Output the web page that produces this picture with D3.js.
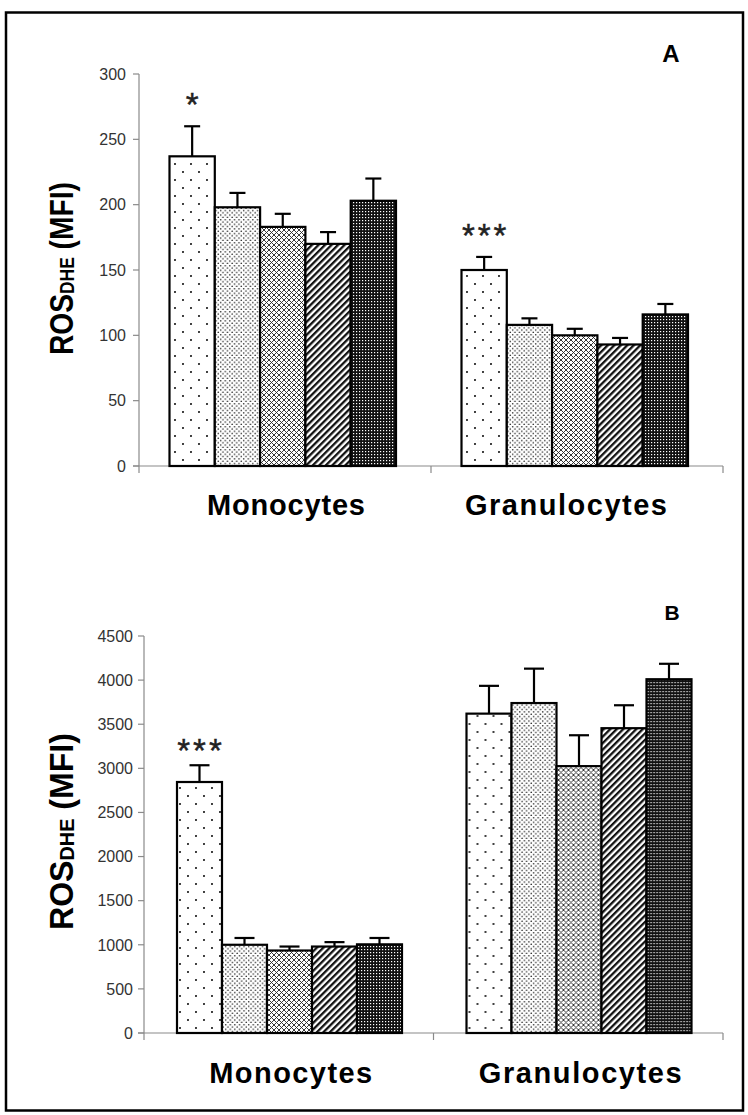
<!DOCTYPE html>
<html><head><meta charset="utf-8">
<script src="https://cdn.jsdelivr.net/npm/d3@7"></script>
<style>body{margin:0;background:#fff}svg{display:block}</style>
</head><body><svg id="c" width="748" height="1115"></svg>
<script>
// ---- data ----
const categories = ["Monocytes", "Granulocytes"];
const series = ["Group 1", "Group 2", "Group 3", "Group 4", "Group 5"];

const panelA_Monocytes = [237, 198, 183, 170, 203];
const panelA_MonocytesErr = [23, 11, 10, 9, 17];
const panelA_Granulocytes = [150, 108, 100, 93, 116];
const panelA_GranulocytesErr = [10, 5, 5, 5, 8];
const panelA_Ticks = [0, 50, 100, 150, 200, 250, 300];
const panelA_Sig = [["*", "", "", "", ""], ["***", "", "", "", ""]];

const panelB_Monocytes = [2845, 1000, 935, 980, 1005];
const panelB_MonocytesErr = [190, 77, 45, 50, 72];
const panelB_Granulocytes = [3620, 3740, 3025, 3455, 4010];
const panelB_GranulocytesErr = [315, 390, 350, 260, 175];
const panelB_Ticks = [0, 500, 1000, 1500, 2000, 2500, 3000, 3500, 4000, 4500];
const panelB_Sig = [["***", "", "", "", ""], ["", "", "", "", ""]];

const F = "'Liberation Sans', Arial, Helvetica, sans-serif";
const svg = d3.select("#c");

// ---- patterns ----
const defs = svg.append("defs");
function pat(id, w, h, build, tf) {
  const p = defs.append("pattern").attr("id", id).attr("patternUnits", "userSpaceOnUse")
    .attr("width", w).attr("height", h);
  if (tf) p.attr("patternTransform", tf);
  build(p);
}
pat("p0", 16, 16, p => {
  p.append("rect").attr("width", 16).attr("height", 16).attr("fill", "#fff");
  p.append("circle").attr("cx", 4).attr("cy", 4).attr("r", 1.05).attr("fill", "#111");
  p.append("circle").attr("cx", 12).attr("cy", 12).attr("r", 1.05).attr("fill", "#111");
});
pat("p1", 4.6, 4.6, p => {
  p.append("rect").attr("width", 4.6).attr("height", 4.6).attr("fill", "#fff");
  p.append("circle").attr("cx", 1.15).attr("cy", 1.15).attr("r", 0.8).attr("fill", "#222");
  p.append("circle").attr("cx", 3.45).attr("cy", 3.45).attr("r", 0.8).attr("fill", "#222");
});
pat("p2", 5, 5, p => {
  p.append("rect").attr("width", 5).attr("height", 5).attr("fill", "#fff");
  p.append("path").attr("d", "M0,0L5,5M0,5L5,0M-1,1L1,-1M4,6L6,4M-1,4L1,6M4,-1L6,1")
    .attr("stroke", "#222").attr("stroke-width", 0.9);
});
pat("p3", 4.6, 4.6, p => {
  p.append("rect").attr("width", 4.6).attr("height", 4.6).attr("fill", "#fff");
  p.append("rect").attr("width", 2.3).attr("height", 4.6).attr("fill", "#111");
}, "rotate(45)");
pat("p4", 3, 3, p => {
  p.append("rect").attr("width", 3).attr("height", 3).attr("fill", "#111");
  p.append("rect").attr("x", 1).attr("y", 1).attr("width", 1.2).attr("height", 1.2).attr("fill", "#fff");
});
const fills = ["url(#p0)", "url(#p1)", "url(#p2)", "url(#p3)", "url(#p4)"];

// ---- frame ----
svg.append("rect").attr("x", 6).attr("y", 12.5).attr("width", 737).attr("height", 1098)
  .attr("fill", "none").attr("stroke", "#000").attr("stroke-width", 2.5);

function drawPanel(cfg) {
  const y = d3.scaleLinear().domain([0, cfg.ticks[cfg.ticks.length - 1]]).range([cfg.y0, cfg.y1]);
  const x0 = d3.scaleBand().domain(categories).range([cfg.xLeft, cfg.xRight]).padding(0);
  const x1 = d3.scaleBand().domain(series).range(cfg.inner).padding(0);
  const g = svg.append("g");
  const axisColor = "#8a8a8a";

  // y axis
  g.append("line").attr("x1", cfg.xLeft).attr("x2", cfg.xLeft).attr("y1", y(cfg.ticks[cfg.ticks.length - 1]))
    .attr("y2", cfg.y0 + 7).attr("stroke", axisColor).attr("stroke-width", 1.2);
  cfg.ticks.forEach(t => {
    g.append("line").attr("x1", cfg.xLeft - 6).attr("x2", cfg.xLeft).attr("y1", y(t)).attr("y2", y(t))
      .attr("stroke", axisColor).attr("stroke-width", 1.2);
    g.append("text").attr("x", cfg.xLeft - cfg.labelGap).attr("y", y(t)).attr("dy", "0.36em")
      .attr("text-anchor", "end").attr("font-family", F).attr("font-size", 16).attr("fill", "#333").text(t);
  });
  // x axis
  g.append("line").attr("x1", cfg.xLeft - 6).attr("x2", cfg.xRight).attr("y1", cfg.y0).attr("y2", cfg.y0)
    .attr("stroke", axisColor).attr("stroke-width", 1.2);
  categories.forEach((c, i) => {
    const xx = x0(c) + x0.bandwidth();
    g.append("line").attr("x1", xx).attr("x2", xx).attr("y1", cfg.y0).attr("y2", cfg.y0 + 7)
      .attr("stroke", axisColor).attr("stroke-width", 1.2);
  });

  // bars
  categories.forEach((c, ci) => {
    const vals = cfg.values[ci], errs = cfg.errs[ci];
    const gg = g.append("g").attr("transform", `translate(${x0(c)},0)`);
    gg.selectAll("rect.bar").data(series).join("rect").attr("class", "bar")
      .attr("x", s => x1(s)).attr("width", x1.bandwidth())
      .attr("y", (s, i) => y(vals[i])).attr("height", (s, i) => cfg.y0 - y(vals[i]))
      .attr("fill", (s, i) => fills[i]).attr("stroke", "#000").attr("stroke-width", 2.2);
    series.forEach((s, i) => {
      const cx = x1(s) + x1.bandwidth() / 2;
      const top = y(vals[i] + errs[i]);
      gg.append("line").attr("x1", cx).attr("x2", cx).attr("y1", y(vals[i])).attr("y2", top)
        .attr("stroke", "#000").attr("stroke-width", 2.2);
      gg.append("line").attr("x1", cx - cfg.cap / 2).attr("x2", cx + cfg.cap / 2).attr("y1", top).attr("y2", top)
        .attr("stroke", "#000").attr("stroke-width", 2.2);
      const sig = cfg.sig[ci][i];
      if (sig) {
        gg.append("text").attr("x", cx + 1.5).attr("y", top - cfg.sigGap + 18)
          .attr("text-anchor", "middle").attr("font-family", F).attr("font-size", 33)
          .attr("letter-spacing", 3).attr("fill", "#222").attr("stroke", "#222").attr("stroke-width", 0.4).text(sig);
      }
    });
  });

  // category labels
  categories.forEach((c, ci) => {
    g.append("text").attr("x", x0(c) + x0.bandwidth() / 2 + cfg.catDx[ci]).attr("y", cfg.catY)
      .attr("text-anchor", "middle").attr("font-family", F).attr("font-weight", "bold")
      .attr("font-size", 29).attr("textLength", cfg.catLen[ci]).attr("lengthAdjust", "spacing")
      .attr("fill", "#000").text(c);
  });

  // panel letter
  g.append("text").attr("x", cfg.letterX).attr("y", cfg.letterY).attr("text-anchor", "middle")
    .attr("font-family", F).attr("font-weight", "bold").attr("font-size", cfg.letterSize).text(cfg.letter);

  // y label
  const lg = g.append("g").attr("transform", `translate(72.5,${cfg.labelCy}) rotate(-90)`);
  const t = lg.append("text").attr("font-family", F).attr("font-weight", "bold").attr("font-size", 34).attr("fill", "#000");
  t.append("tspan").text("ROS");
  t.append("tspan").attr("font-size", 21).attr("dy", 1).text("DHE");
  t.append("tspan").attr("dy", -1).text(" (MFI)");
  const w = t.node().getComputedTextLength();
  t.attr("transform", `scale(${cfg.labelLen / w},1) translate(${-w / 2},0)`);
}

drawPanel({
  ticks: panelA_Ticks, y0: 466, y1: 74, xLeft: 139, xRight: 723, inner: [30.5, 257],
  values: [panelA_Monocytes, panelA_Granulocytes], errs: [panelA_MonocytesErr, panelA_GranulocytesErr],
  sig: panelA_Sig, sigGap: 28, cap: 16, labelGap: 13,
  catY: 515, catDx: [1, -11], catLen: [158, 202],
  letter: "A", letterX: 671, letterY: 62, letterSize: 24, labelCy: 268.5, labelLen: 173
});
drawPanel({
  ticks: panelB_Ticks, y0: 1033, y1: 636, xLeft: 144, xRight: 723, inner: [33, 258],
  values: [panelB_Monocytes, panelB_Granulocytes], errs: [panelB_MonocytesErr, panelB_GranulocytesErr],
  sig: panelB_Sig, sigGap: 21, cap: 20, labelGap: 11,
  catY: 1083, catDx: [2, 2], catLen: [163, 203],
  letter: "B", letterX: 672, letterY: 620, letterSize: 21, labelCy: 831.5, labelLen: 197
});
</script>
</body></html>
